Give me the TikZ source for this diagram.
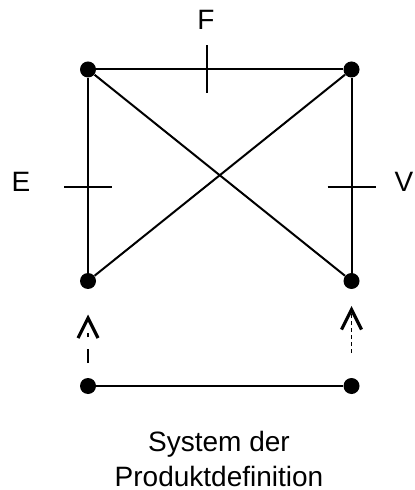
\documentclass[tikz,border=0pt]{standalone}
\usepackage{fontspec}
\setmainfont{Liberation Sans}
\usetikzlibrary{arrows.meta,calc}

\begin{document}
\begin{tikzpicture}[x=0.5pt,y=-0.5pt,
  font=\fontsize{14}{17.5}\selectfont,
  dot/.style={circle,fill=black,inner sep=0pt,minimum size=8pt},
  edge/.style={line width=1pt},
  tick/.style={line width=1pt},
  lbl/.style={inner sep=0pt},
  barb/.style={-{Straight Barb[length=10pt,width=10pt,line width=1.6pt]}}]
\useasboundingbox (0,0) rectangle (414,490);
% square with diagonals
\node[dot] (tl) at (88,69.5) {};
\node[dot] (tr) at (351.5,69.5) {};
\node[dot] (bl) at (88,281) {};
\node[dot] (br) at (351.5,281) {};
\draw[edge] (tl) -- (tr) -- (br);
\draw[edge] (tl) -- (bl);
\draw[edge] (tl) -- (br);
\draw[edge] (tr) -- (bl);
% ticks and their labels
\coordinate (tf) at ($(tl)!0.453!(tr)$);
\coordinate (te) at ($(tl)!0.556!(bl)$);
\coordinate (tv) at ($(tr)!0.556!(br)$);
\draw[tick] ($(tf)+(0,-24)$) -- ($(tf)+(0,24)$);
\draw[tick] ($(te)+(-24,0)$) -- ($(te)+(24,0)$);
\draw[tick] ($(tv)+(-24,0)$) -- ($(tv)+(24,0)$);
\node[lbl] (F) at (206,20) {F};
\node[lbl] (E) at (21,181.5) {E};
\node[lbl] (V) at (404,181.5) {V};
% product definition system
\node[dot] (pl) at (88,386) {};
\node[dot] (pr) at (351.5,386) {};
\draw[edge] (pl) -- (pr);
\coordinate (al0) at (88,363);
\coordinate (al1) at (88,314.5);
\coordinate (ar0) at (351.5,353);
\coordinate (ar1) at (351.5,306);
\draw[line width=0.8pt,dash pattern=on 7pt off 6pt on 2pt off 6pt,barb] (al0) -- (al1);
\draw[line width=0.8pt,dash pattern=on 2pt off 1.5pt,barb] (ar0) -- (ar1);
\node[lbl,anchor=north,align=center] (sys) at (219,431) {System der\\Produktdefinition};
\end{tikzpicture}
\end{document}
